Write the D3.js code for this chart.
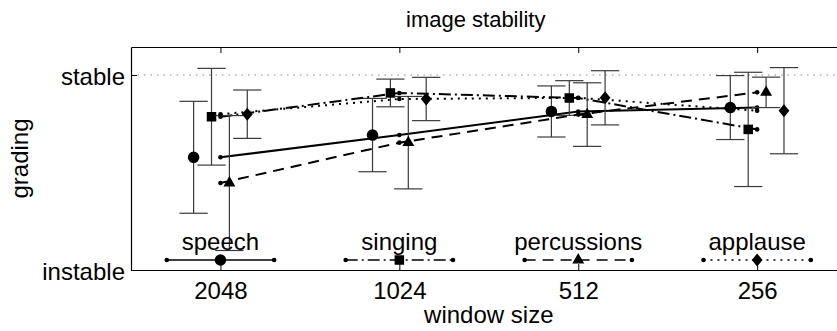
<!DOCTYPE html>
<html><head><meta charset="utf-8">
<script src="https://cdn.jsdelivr.net/npm/d3@7"></script>
<style>
body{margin:0;background:#fff;}
text{font-family:"Liberation Sans",Arial,Helvetica,sans-serif;fill:#000;}
</style></head>
<body><svg id="c" width="837" height="331"></svg>
<script>
const categories = ["2048", "1024", "512", "256"];
const seriesNames = ["speech", "singing", "percussions", "applause"];
const yTickValues = [0, 1];
const yTickLabels = ["instable", "stable"];
// mean grading (0 = instable, 1 = stable) and error half-widths
const speechMean = [0.578, 0.692, 0.813, 0.833];
const speechErr  = [0.287, 0.188, 0.131, 0.164];
const singingMean = [0.786, 0.908, 0.882, 0.721];
const singingErr  = [0.248, 0.071, 0.089, 0.293];
const percussionsMean = [0.446, 0.653, 0.797, 0.911];
const percussionsErr  = [0.346, 0.237, 0.163, 0.078];
const applauseMean = [0.799, 0.877, 0.883, 0.817];
const applauseErr  = [0.124, 0.111, 0.139, 0.221];

const W = 837, H = 331;
const L = 131, T = 47, B = 270, R = 846.6;
const svg = d3.select("#c");
const x = d3.scaleLinear().domain([0.5, 4.5]).range([L, R]);
const y = d3.scaleLinear().domain([0, 1.1436]).range([B, T]);

const series = [
  {name: seriesNames[0], mean: speechMean, err: speechErr, marker: "circle", dash: null, off: -0.15},
  {name: seriesNames[1], mean: singingMean, err: singingErr, marker: "square", dash: "12,4,2,4", off: -0.05},
  {name: seriesNames[2], mean: percussionsMean, err: percussionsErr, marker: "triangle", dash: "11,7", off: 0.05},
  {name: seriesNames[3], mean: applauseMean, err: applauseErr, marker: "diamond", dash: "2,5", off: 0.15}
];

function markerPath(m) {
  if (m === "circle") return d3.symbol(d3.symbolCircle, Math.PI * 5.8 * 5.8)();
  if (m === "square") return d3.symbol(d3.symbolSquare, 9.5 * 9.5)();
  if (m === "triangle") return d3.symbol(d3.symbolTriangle, 62)();
  return "M0,-6.5L5.4,0L0,6.5L-5.4,0Z";
}

// stable reference dotted line
svg.append("line").attr("x1", L).attr("x2", R).attr("y1", y(1)).attr("y2", y(1))
  .attr("stroke", "#888").attr("stroke-width", 1).attr("stroke-dasharray", "1.5,5");

const plot = svg.append("g");
const capHalf = 0.079;
series.forEach(s => {
  const idx = d3.range(categories.length);
  // connecting line through category centres
  plot.append("path")
    .attr("d", d3.line().x(i => x(i + 1)).y(i => y(s.mean[i]))(idx))
    .attr("fill", "none").attr("stroke", "#000").attr("stroke-width", 2)
    .attr("stroke-dasharray", s.dash);
  plot.selectAll(null).data(idx).join("circle")
    .attr("cx", i => x(i + 1)).attr("cy", i => y(s.mean[i])).attr("r", 2.3).attr("fill", "#000");
  // error bars
  idx.forEach(i => {
    const xc = i + 1 + s.off;
    const lo = s.mean[i] - s.err[i], hi = s.mean[i] + s.err[i];
    const g = plot.append("g").attr("stroke", "#3a3a3a").attr("stroke-width", 1.2);
    g.append("line").attr("x1", x(xc)).attr("x2", x(xc)).attr("y1", y(lo)).attr("y2", y(hi));
    g.append("line").attr("x1", x(xc - capHalf)).attr("x2", x(xc + capHalf)).attr("y1", y(lo)).attr("y2", y(lo));
    g.append("line").attr("x1", x(xc - capHalf)).attr("x2", x(xc + capHalf)).attr("y1", y(hi)).attr("y2", y(hi));
    plot.append("path").attr("d", markerPath(s.marker))
      .attr("transform", `translate(${x(xc)},${y(s.mean[i])})`).attr("fill", "#000");
  });
});

// legend (inside axes, bottom)
const legY = 260, legHalf = 0.3;
series.forEach((s, k) => {
  const cx = k + 1;
  const g = svg.append("g");
  g.append("text").attr("x", x(cx)).attr("y", 250).attr("text-anchor", "middle")
    .attr("font-size", 24).text(s.name);
  g.append("line").attr("x1", x(cx - legHalf)).attr("x2", x(cx + legHalf)).attr("y1", legY).attr("y2", legY)
    .attr("stroke", "#000").attr("stroke-width", 1.5).attr("stroke-dasharray", s.dash);
  [cx - legHalf, cx + legHalf].forEach(v => g.append("circle").attr("cx", x(v)).attr("cy", legY).attr("r", 2.3).attr("fill", "#000"));
  g.append("path").attr("d", markerPath(s.marker)).attr("transform", `translate(${x(cx)},${legY})`).attr("fill", "#000");
});

// axes
const tickVals = [1, 2, 3, 4];
const xb = svg.append("g").attr("transform", `translate(0,${B})`)
  .call(d3.axisBottom(x).tickValues(tickVals).tickFormat((d, i) => categories[i]).tickSizeInner(-6).tickSizeOuter(0).tickPadding(12));
const xt = svg.append("g").attr("transform", `translate(0,${T})`)
  .call(d3.axisTop(x).tickValues(tickVals).tickFormat("").tickSizeInner(-6).tickSizeOuter(0));
const yl = svg.append("g").attr("transform", `translate(${L},0)`)
  .call(d3.axisLeft(y).tickValues(yTickValues).tickFormat((d, i) => yTickLabels[i]).tickSizeInner(-6).tickSizeOuter(0).tickPadding(6));
svg.append("line").attr("x1", R).attr("x2", R).attr("y1", T).attr("y2", B).attr("stroke", "#000");
[xb, xt, yl].forEach(g => {
  g.selectAll("path.domain").attr("stroke", "#000").attr("stroke-width", 1.2);
  g.selectAll(".tick line").attr("stroke", "#000");
  g.selectAll("text").attr("font-size", 24).attr("font-family", "Liberation Sans, Arial, sans-serif").attr("fill", "#000");
});
yl.selectAll("text").attr("dy", "0.38em");

// titles
svg.append("text").attr("x", 406).attr("y", 27).attr("font-size", 22).text("image stability");
svg.append("text").attr("x", (L + R) / 2).attr("y", 323).attr("text-anchor", "middle").attr("font-size", 24).text("window size");
svg.append("text").attr("transform", `translate(28,${(T + B) / 2}) rotate(-90)`).attr("text-anchor", "middle")
  .attr("font-size", 24).text("grading");
</script></body></html>
